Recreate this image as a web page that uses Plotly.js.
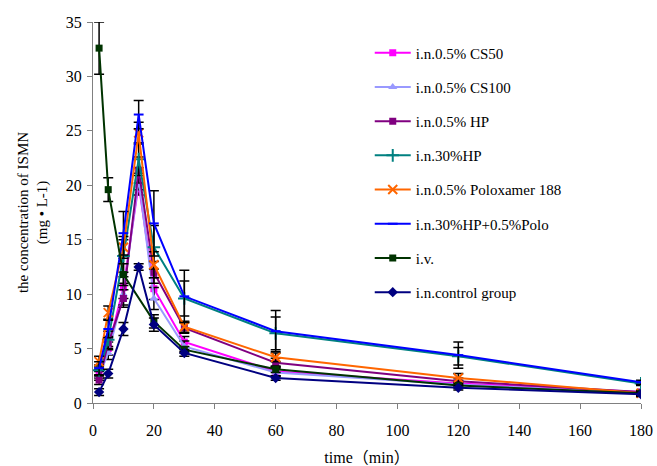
<!DOCTYPE html>
<html>
<head>
<meta charset="utf-8">
<script src="https://cdn.plot.ly/plotly-3.0.1.min.js"></script>
<style>html,body{margin:0;padding:0;background:#fff;}#chart{width:657px;height:466px;}</style>
</head>
<body>
<div id="chart"></div>
<script>
const timesIN = [2, 5, 10, 15, 20, 30, 60, 120, 180];
const timesIV = [2, 5, 10, 20, 30, 60, 120, 180];

const seriesNames = [
  "i.n.0.5% CS50",
  "i.n.0.5% CS100",
  "i.n.0.5% HP",
  "i.n.30%HP",
  "i.n.0.5% Poloxamer 188",
  "i.n.30%HP+0.5%Polo",
  "i.v.",
  "i.n.control group"
];

const cs50     = [2.7, 5.0, 10.6, 20.1, 10.5, 5.6, 2.9, 1.8, 1.0];
const cs100    = [2.5, 4.6, 10.0, 20.6, 9.6, 5.2, 2.8, 1.7, 0.9];
const hp05     = [2.1, 5.5, 9.6, 21.4, 12.0, 6.9, 3.7, 2.0, 1.0];
const hp30     = [3.0, 5.8, 13.5, 22.4, 14.3, 9.6, 6.4, 4.3, 1.8];
const polox    = [3.8, 8.3, 14.3, 24.8, 12.7, 7.0, 4.2, 2.3, 0.9];
const hpPolo   = [3.2, 6.8, 15.6, 26.5, 16.5, 9.8, 6.6, 4.4, 1.9];
const iv       = [32.6, 19.6, 11.8, 7.5, 4.9, 3.1, 1.6, 0.9];
const control  = [1.0, 2.7, 6.8, 12.5, 7.2, 4.6, 2.3, 1.4, 0.8];

const errCs50    = [0.4, 0.6, 1.0, 1.0, 1.0, 0.5, 0.4, 0.3, 0.2];
const errCs100   = [0.4, 0.6, 1.0, 1.0, 1.0, 0.5, 0.4, 0.3, 0.2];
const errHp05    = [0.4, 0.6, 0.8, 1.2, 1.0, 0.5, 0.4, 0.3, 0.2];
const errHp30    = [0.5, 0.8, 1.5, 1.5, 2.0, 1.6, 1.5, 0.8, 0.2];
const errPolox   = [0.5, 0.6, 1.0, 1.0, 1.2, 0.5, 0.4, 0.4, 0.2];
const errHpPolo  = [0.6, 0.8, 2.0, 1.3, 3.0, 2.4, 1.9, 1.2, 0.2];
const errIv      = [2.4, 1.1, 1.0, 0.6, 0.3, 0.3, 0.2, 0.2];
const errControl = [0.3, 0.4, 0.6, 0.3, 0.6, 0.3, 0.2, 0.2, 0.2];

const xTicks = [0, 20, 40, 60, 80, 100, 120, 140, 160, 180];
const yTicks = [0, 5, 10, 15, 20, 25, 30, 35];

const styles = [
  {color: "#FF00FF", symbol: "square", size: 7},
  {color: "#9999FF", symbol: "triangle-up", size: 8},
  {color: "#800080", symbol: "square", size: 7},
  {color: "#008080", symbol: "cross-thin", size: 9, lw: 2},
  {color: "#FF6600", symbol: "x-thin", size: 9, lw: 2},
  {color: "#0000FF", symbol: "line-ew", size: 7, lw: 2},
  {color: "#003300", symbol: "square", size: 7},
  {color: "#000080", symbol: "diamond", size: 8}
];

const xs = [timesIN, timesIN, timesIN, timesIN, timesIN, timesIN, timesIV, timesIN];
const ys = [cs50, cs100, hp05, hp30, polox, hpPolo, iv, control];
const es = [errCs50, errCs100, errHp05, errHp30, errPolox, errHpPolo, errIv, errControl];

const traces = seriesNames.map((name, i) => {
  const s = styles[i];
  const marker = {color: s.color, symbol: s.symbol, size: s.size};
  if (s.lw) marker.line = {color: s.color, width: s.lw};
  return {
    type: "scatter",
    mode: "lines+markers",
    name: name,
    legendgroup: "g" + i,
    x: xs[i],
    y: ys[i],
    line: {color: s.color, width: 2},
    marker: marker,
    error_y: {type: "data", array: es[i], visible: true, color: "#000000", thickness: 1.5, width: 5}
  };
});

const layout = {
  width: 657,
  height: 466,
  margin: {l: 93, r: 16, t: 22, b: 63},
  paper_bgcolor: "#ffffff",
  plot_bgcolor: "#ffffff",
  font: {family: "Liberation Serif, Times New Roman, serif", size: 15, color: "#000000"},
  showlegend: true,
  legend: {
    x: 0.505, y: 0.962, xanchor: "left", yanchor: "top",
    bgcolor: "rgba(0,0,0,0)",
    font: {family: "Liberation Serif, serif", size: 15, color: "#000000"},
    traceorder: "grouped",
    tracegroupgap: 11.7,
    itemwidth: 36
  },
  xaxis: {
    range: [0, 180],
    tickvals: xTicks,
    ticktext: xTicks.map(String),
    showgrid: false,
    zeroline: false,
    showline: true,
    linecolor: "#808080",
    linewidth: 1,
    ticks: "outside",
    ticklen: 5,
    tickcolor: "#808080",
    ticklabelstandoff: 8,
    tickfont: {family: "Liberation Serif, serif", size: 16},
    title: {text: "time（min）", font: {family: "Liberation Serif, Noto Sans CJK SC, serif", size: 16}, standoff: 14}
  },
  yaxis: {
    range: [0, 35],
    tickvals: yTicks,
    ticktext: yTicks.map(String),
    showgrid: false,
    zeroline: false,
    showline: true,
    linecolor: "#808080",
    linewidth: 1,
    ticks: "outside",
    ticklen: 5,
    tickcolor: "#808080",
    ticklabelstandoff: 2,
    tickfont: {family: "Liberation Serif, serif", size: 16},
    title: {text: "the concentration of ISMN<br>(mg • L-1)", font: {family: "Liberation Serif, serif", size: 15}, standoff: 14}
  }
};

Plotly.newPlot("chart", traces, layout, {staticPlot: true, displayModeBar: false});
</script>
</body>
</html>
